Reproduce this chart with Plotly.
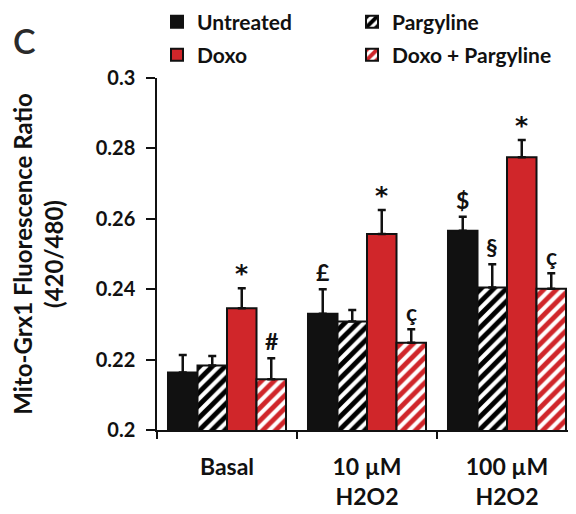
import plotly.graph_objects as go

categories = ["Basal", "10 µM<br>H2O2", "100 µM<br>H2O2"]
series_names = ["Untreated", "Pargyline", "Doxo", "Doxo + Pargyline"]
untreated = [0.2163, 0.2330, 0.2566]
pargyline = [0.2183, 0.2308, 0.2405]
doxo = [0.2346, 0.2557, 0.2775]
doxo_parg = [0.2144, 0.2248, 0.2401]
err_untreated = [0.0050, 0.0070, 0.0040]
err_pargyline = [0.0027, 0.0033, 0.0066]
err_doxo = [0.0057, 0.0068, 0.0049]
err_doxo_parg = [0.0060, 0.0038, 0.0044]
sig_untreated = ["", "£", "$"]
sig_pargyline = ["", "", "§"]
sig_doxo = ["*", "*", "*"]
sig_doxo_parg = ["#", "ç", "ç"]
y_ticks = [0.2, 0.22, 0.24, 0.26, 0.28, 0.3]
y_ticklabels = ["0.2", "0.22", "0.24", "0.26", "0.28", "0.3"]

RED = "#d0262a"
BLACK = "#111111"
FONT = "Lato"

# figure geometry (pixels); the page adds an 8px body margin, compensate for it
OFF = 8
W, H = 576, 514
ML = 157 - OFF
MT = 78 - OFF
PW = 420
PH = 352
MR = W - ML - PW
MB = H - MT - PH

values = [untreated, pargyline, doxo, doxo_parg]
errors = [err_untreated, err_pargyline, err_doxo, err_doxo_parg]
sigs = [sig_untreated, sig_pargyline, sig_doxo, sig_doxo_parg]
styles = [
    dict(color=BLACK),
    dict(color="white", pattern=dict(shape="/", fgcolor="#000000", bgcolor="white", size=9,
                                     solidity=0.55, fgopacity=1)),
    dict(color=RED),
    dict(color="white", pattern=dict(shape="/", fgcolor=RED, bgcolor="white", size=9,
                                     solidity=0.55, fgopacity=1)),
]
legend_ids = ["legend", "legend2", "legend3", "legend4"]
# legend item anchor positions in the reference (pixels from top-left)
legend_pos = [(157, 22), (352, 22), (157, 55), (352, 55)]

fig = go.Figure()
for name, vals, errs, st, lg in zip(series_names, values, errors, styles, legend_ids):
    fig.add_trace(go.Bar(
        name=name, x=categories, y=vals, showlegend=True,
        marker=dict(**st, line=dict(color=BLACK, width=2)),
        error_y=dict(type="data", symmetric=False, array=errs, arrayminus=[0] * len(errs),
                     color=BLACK, thickness=2.5, width=4),
        legend=lg,
    ))

bar_px = PW / 3 * (1 - 0.157) / 4
annotations = []
for k, (vals, errs, sg) in enumerate(zip(values, errors, sigs)):
    for i, cat in enumerate(categories):
        if not sg[i]:
            continue
        star = sg[i] == "*"
        annotations.append(dict(
            x=cat, y=vals[i] + errs[i], xref="x", yref="y",
            text=sg[i], showarrow=False, yanchor="bottom",
            xshift=(k - 1.5) * bar_px, yshift=-2 if star else 1,
            font=dict(family="DejaVu Sans" if star else FONT, size=25 if star else 23,
                      color=BLACK, weight="bold"),
        ))
annotations.append(dict(
    x=(24 - OFF - ML) / PW, y=(MT + PH - (40 - OFF)) / PH, xref="paper", yref="paper", text="C",
    showarrow=False, xanchor="center", yanchor="middle",
    font=dict(family=FONT, size=34, color="#2a2a2a", weight=600),
))
fig.update_layout(annotations=annotations)

legend_layout = {}
for lg, (px, py) in zip(legend_ids, legend_pos):
    legend_layout[lg] = dict(
        xref="container", yref="container", x=(px - OFF) / W, y=1 - (py - OFF) / H,
        xanchor="left", yanchor="middle", orientation="h", itemwidth=30, visible=True,
        font=dict(family=FONT, size=21, color=BLACK, weight="bold"),
        bgcolor="rgba(0,0,0,0)", borderwidth=0,
    )

fig.update_layout(
    width=W, height=H, showlegend=True,
    margin=dict(l=ML, r=MR, t=MT, b=MB, autoexpand=False),
    paper_bgcolor="white", plot_bgcolor="white",
    barmode="group", bargap=0.157, bargroupgap=0,
    font=dict(family=FONT, color=BLACK, weight="bold"),
    **legend_layout,
)
fig.update_xaxes(
    showline=True, linecolor=BLACK, linewidth=1.5, ticks="outside", tickson="boundaries",
    ticklen=7, tickcolor=BLACK, tickwidth=1.5, showgrid=False, zeroline=False,
    tickfont=dict(family=FONT, size=23, color=BLACK, weight="bold"), ticklabelstandoff=16,
    automargin=False,
)
fig.update_yaxes(
    range=[0.2, 0.3], tickvals=y_ticks, ticktext=y_ticklabels,
    showline=True, linecolor=BLACK, linewidth=1.5, ticks="outside", ticklen=9,
    tickcolor=BLACK, tickwidth=1.5, showgrid=False, zeroline=False,
    tickfont=dict(family=FONT, size=20, color=BLACK, weight="bold"), ticklabelstandoff=7,
    title=dict(text="Mito-Grx1 Fluorescence Ratio<br>(420/480)", standoff=25,
               font=dict(family=FONT, size=24, color=BLACK, weight="bold")),
    automargin=False,
)

fig.write_html("out.html")
